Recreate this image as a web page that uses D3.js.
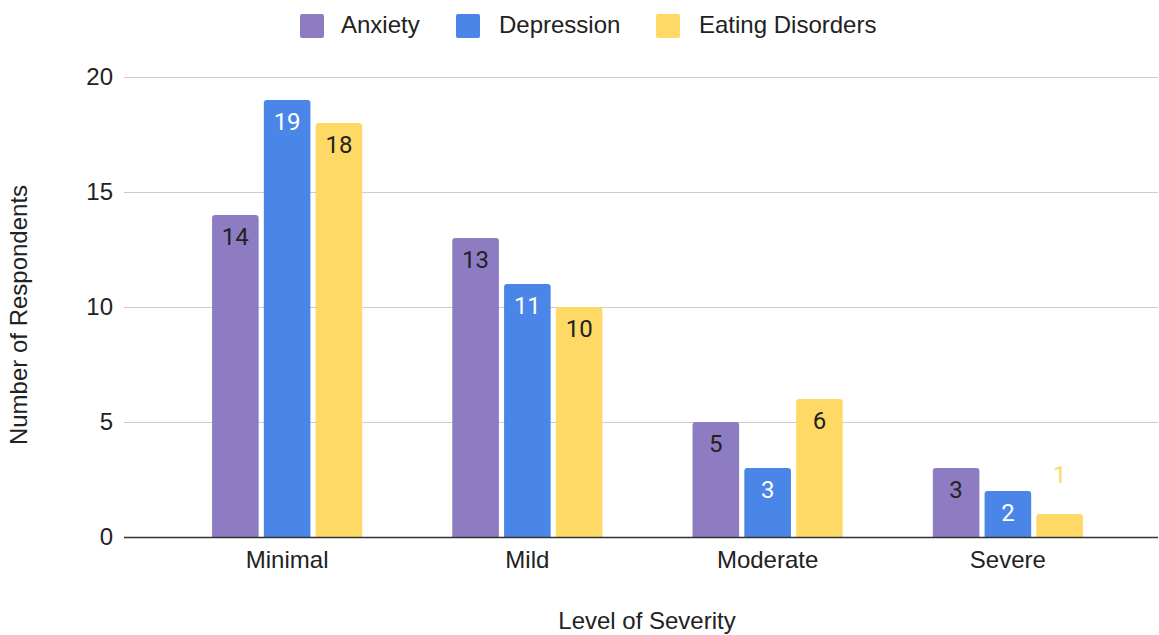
<!DOCTYPE html>
<html>
<head>
<meta charset="utf-8">
<script src="https://cdnjs.cloudflare.com/ajax/libs/d3/7.8.5/d3.min.js"></script>
<style>
  body { margin: 0; background: #fff; }
  text { font-family: Arial, "Liberation Sans", sans-serif; }
  .bar-label { font-family: Roboto, sans-serif; font-size: 24px; }
</style>
</head>
<body>
<svg width="1159" height="635"></svg>
<script>
const categories = ['Minimal', 'Mild', 'Moderate', 'Severe'];
const seriesNames = ['Anxiety', 'Depression', 'Eating Disorders'];
const anxiety = [14, 13, 5, 3];
const depression = [19, 11, 3, 2];
const eatingDisorders = [18, 10, 6, 1];
const yTicks = [0, 5, 10, 15, 20];

const colors = ['#8e7cc3', '#4a86e8', '#ffd966'];
const labelColors = ['#222222', '#ffffff', '#222222'];

const svg = d3.select('svg');

const data = categories.map((c, i) => ({
    category: c,
    values: [anxiety[i], depression[i], eatingDisorders[i]]
}));

const gridLeft = 124, gridRight = 1158;

const xScale = d3.scaleBand()
    .domain(categories)
    .range([167, 1128])
    .paddingInner(0.375)
    .paddingOuter(0.1875);

const xInner = d3.scaleBand()
    .domain(seriesNames)
    .range([0, xScale.bandwidth()])
    .paddingInner(0.1);

const yScale = d3.scaleLinear()
    .domain([0, 20])
    .range([537, 77]);

// gridlines
svg.append('g')
    .selectAll('line').data(yTicks.filter(t => t > 0))
    .enter().append('line')
        .attr('x1', gridLeft)
        .attr('x2', gridRight)
        .attr('y1', d => yScale(d) + 0.5)
        .attr('y2', d => yScale(d) + 0.5)
        .attr('stroke', '#cccccc')
        .attr('stroke-width', 1);

// y tick labels
svg.append('g')
    .selectAll('text').data(yTicks)
    .enter().append('text')
        .attr('x', 113)
        .attr('y', d => yScale(d))
        .attr('dy', '0.35em')
        .attr('text-anchor', 'end')
        .attr('font-size', 24)
        .attr('fill', '#222')
        .text(d => d);

// bars
const groups = svg.append('g')
    .selectAll('g').data(data)
    .enter().append('g')
        .attr('transform', d => `translate(${xScale(d.category)},0)`);

const barPath = (x, y, w, h, r) =>
    `M${x},${y + h}V${y + r}Q${x},${y} ${x + r},${y}H${x + w - r}Q${x + w},${y} ${x + w},${y + r}V${y + h}Z`;

groups.selectAll('path')
    .data(d => d.values.map((v, i) => ({ v, i, name: seriesNames[i] })))
    .enter().append('path')
        .attr('d', d => {
            const x = xInner(d.name);
            const y = yScale(d.v);
            return barPath(x, y, xInner.bandwidth(), yScale(0) - y, 3);
        })
        .attr('fill', d => colors[d.i]);

groups.selectAll('text')
    .data(d => d.values.map((v, i) => ({ v, i, name: seriesNames[i] })))
    .enter().append('text')
        .attr('class', 'bar-label')
        .attr('x', d => xInner(d.name) + xInner.bandwidth() / 2)
        .attr('y', d => {
            const h = yScale(0) - yScale(d.v);
            return h < 35 ? yScale(d.v) - 39 : yScale(d.v) + 22;
        })
        .attr('dy', '0.35em')
        .attr('text-anchor', 'middle')
        .attr('fill', d => {
            const h = yScale(0) - yScale(d.v);
            return h < 35 ? colors[d.i] : labelColors[d.i];
        })
        .text(d => d.v);

// baseline
svg.append('line')
    .attr('x1', gridLeft)
    .attr('x2', gridRight)
    .attr('y1', yScale(0) + 0.5)
    .attr('y2', yScale(0) + 0.5)
    .attr('stroke', '#333')
    .attr('stroke-width', 1.5);

// x tick labels
svg.append('g')
    .selectAll('text').data(categories)
    .enter().append('text')
        .attr('x', d => xScale(d) + xScale.bandwidth() / 2)
        .attr('y', 560)
        .attr('dy', '0.35em')
        .attr('text-anchor', 'middle')
        .attr('font-size', 24)
        .attr('fill', '#222')
        .text(d => d);

// axis titles
svg.append('text')
    .attr('x', 647)
    .attr('y', 621)
    .attr('dy', '0.35em')
    .attr('text-anchor', 'middle')
    .attr('font-size', 24)
    .attr('fill', '#222')
    .text('Level of Severity');

svg.append('text')
    .attr('transform', 'translate(19,315) rotate(-90)')
    .attr('dy', '0.35em')
    .attr('text-anchor', 'middle')
    .attr('font-size', 24)
    .attr('fill', '#222')
    .text('Number of Respondents');

// legend
const legendX = [300, 456, 656];
const legend = svg.append('g')
    .selectAll('g').data(seriesNames)
    .enter().append('g')
        .attr('transform', (d, i) => `translate(${legendX[i]},14)`);

legend.append('rect')
    .attr('width', 24)
    .attr('height', 24)
    .attr('rx', 2)
    .attr('fill', (d, i) => colors[i]);

legend.append('text')
    .attr('x', (d, i) => [41, 43, 43][i])
    .attr('y', 11)
    .attr('dy', '0.35em')
    .attr('font-size', 24)
    .attr('fill', '#222')
    .text(d => d);
</script>
</body>
</html>
